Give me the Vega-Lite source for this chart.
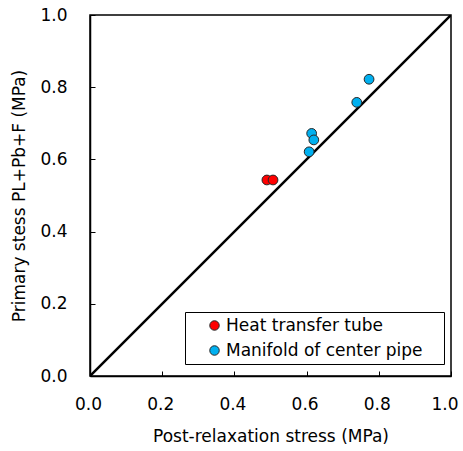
{
  "$schema": "https://vega.github.io/schema/vega-lite/v6.json",
  "width": 361,
  "height": 361,
  "autosize": "none",
  "padding": {"left": 90, "top": 15, "right": 12, "bottom": 75},
  "config": {
    "font": "DejaVu Sans",
    "view": {"stroke": "black", "strokeWidth": 1.5},
    "axis": {
      "grid": false,
      "domainColor": "black",
      "domainWidth": 1.5,
      "tickColor": "black",
      "tickWidth": 1,
      "tickSize": -5,
      "labelFontSize": 17,
      "labelColor": "black",
      "labelFlush": false,
      "titleFontSize": 17,
      "titleFontWeight": "normal",
      "titleColor": "black"
    }
  },
  "layer": [
    {
      "data": {"values": [{"x": 0, "y": 0}, {"x": 1, "y": 1}]},
      "mark": {"type": "line", "color": "black", "strokeWidth": 2.5, "clip": true},
      "encoding": {
        "x": {
          "field": "x",
          "type": "quantitative",
          "scale": {"domain": [0, 1], "nice": false},
          "axis": {
            "title": "Post-relaxation stress (MPa)",
            "titlePadding": 16,
            "labelPadding": 25,
            "values": [0, 0.2, 0.4, 0.6, 0.8, 1.0],
            "format": ".1f",
            "labelAlign": {"condition": {"test": "datum.value == 1", "value": "right"}, "value": "center"},
            "labelOffset": {"condition": {"test": "datum.value == 1", "value": 7}, "value": -2}
          }
        },
        "y": {
          "field": "y",
          "type": "quantitative",
          "scale": {"domain": [0, 1], "nice": false},
          "axis": {
            "title": "Primary stess PL+Pb+F (MPa)",
            "titlePadding": 11,
            "labelPadding": 28,
            "values": [0, 0.2, 0.4, 0.6, 0.8, 1.0],
            "format": ".1f"
          }
        }
      }
    },
    {
      "data": {
        "values": [
          {"x": 0.49, "y": 0.543, "type": "Heat transfer tube"},
          {"x": 0.507, "y": 0.543, "type": "Heat transfer tube"},
          {"x": 0.614, "y": 0.672, "type": "Manifold of center pipe"},
          {"x": 0.62, "y": 0.654, "type": "Manifold of center pipe"},
          {"x": 0.607, "y": 0.621, "type": "Manifold of center pipe"},
          {"x": 0.739, "y": 0.758, "type": "Manifold of center pipe"},
          {"x": 0.773, "y": 0.822, "type": "Manifold of center pipe"}
        ]
      },
      "mark": {"type": "point", "shape": "circle", "filled": true, "size": 95, "stroke": "#262626", "strokeWidth": 1, "opacity": 1},
      "encoding": {
        "x": {"field": "x", "type": "quantitative"},
        "y": {"field": "y", "type": "quantitative"},
        "color": {
          "field": "type",
          "type": "nominal",
          "scale": {"domain": ["Heat transfer tube", "Manifold of center pipe"], "range": ["#FF0000", "#00B0F0"]},
          "legend": {
            "title": null,
            "orient": "none",
            "legendX": 95,
            "legendY": 297,
            "strokeColor": "black",
            "fillColor": "white",
            "padding": 5,
            "symbolOffset": 16,
            "symbolSize": 90,
            "symbolStrokeColor": "#262626",
            "symbolStrokeWidth": 1,
            "labelFontSize": 17,
            "labelColor": "black",
            "labelOffset": 3,
            "labelLimit": 400,
            "rowPadding": 7,
            "labelExpr": "datum.label + '\u00a0\u00a0\u00a0\u200b'"
          }
        }
      }
    }
  ]
}
